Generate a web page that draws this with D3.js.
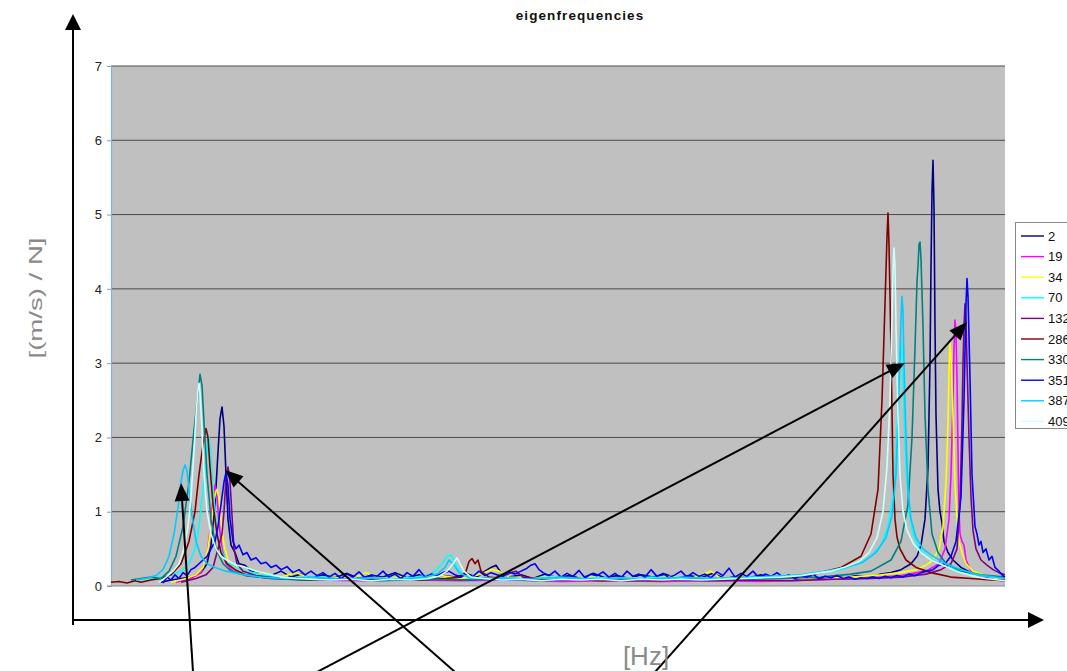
<!DOCTYPE html>
<html><head><meta charset="utf-8">
<script src="https://cdn.jsdelivr.net/npm/d3@7"></script>
<style>body{margin:0;background:#fff;overflow:hidden} svg{display:block;font-family:Arial,"Liberation Sans",sans-serif}</style>
</head><body><svg id="c" width="1067" height="671"></svg>
<script>
const chartTitle = "eigenfrequencies";
const yTitle = "[(m/s) / N]";
const xTitle = "[Hz]";
const seriesNames = ["2","19","34","70","132","286","330","351","387","409"];
const seriesColors = ["#000080","#FF00FF","#FFFF00","#00FFFF","#800080","#800000","#008080","#0000FF","#00CCFF","#CCFFFF"];
const yTicks = [0,1,2,3,4,5,6,7];
const freqRange = [0, 894];

const s2 = [[50,0.05],[60,0.08],[70,0.1],[80,0.12],[90,0.18],[96,0.3],[100,0.55],[104,1.1],[107,1.8],[109,2.25],[111,2.41],[113,2.15],[115,1.5],[117,0.9],[120,0.55],[124,0.45],[128,0.3],[134,0.28],[140,0.2],[150,0.18],[160,0.14],[170,0.2],[180,0.12],[190,0.16],[200,0.1],[212,0.15],[224,0.11],[236,0.17],[248,0.1],[260,0.14],[272,0.12],[284,0.18],[296,0.11],[308,0.15],[320,0.1],[332,0.14],[344,0.12],[356,0.16],[366,0.12],[374,0.2],[380,0.25],[385,0.28],[390,0.18],[398,0.12],[410,0.15],[422,0.1],[434,0.16],[446,0.11],[458,0.14],[470,0.1],[482,0.17],[494,0.11],[506,0.14],[518,0.1],[530,0.15],[542,0.12],[554,0.16],[566,0.1],[578,0.14],[590,0.11],[602,0.17],[614,0.1],[626,0.13],[638,0.11],[650,0.15],[662,0.1],[674,0.13],[686,0.09],[698,0.12],[710,0.1],[722,0.13],[734,0.11],[746,0.14],[758,0.12],[770,0.16],[780,0.18],[790,0.22],[800,0.3],[806,0.4],[810,0.55],[814,0.9],[817,1.6],[819,3.0],[820,4.3],[821,5.3],[822,5.73],[823,5.1],[824,3.5],[825,2.3],[827,1.3],[829,1.0],[831,0.85],[833,0.6],[837,0.45],[842,0.35],[850,0.25],[860,0.18],[872,0.14],[884,0.1],[894,0.08]];
const s19 = [[65,0.05],[80,0.1],[90,0.18],[96,0.4],[99,0.75],[102,1.15],[104,1.36],[106,1.2],[108,0.85],[111,0.5],[115,0.3],[122,0.2],[135,0.14],[160,0.1],[200,0.08],[250,0.07],[300,0.08],[350,0.07],[400,0.08],[450,0.06],[500,0.07],[550,0.06],[600,0.07],[650,0.06],[700,0.08],[750,0.1],[790,0.14],[815,0.2],[828,0.3],[834,0.5],[838,0.9],[840,1.5],[842,2.5],[843,3.2],[844,3.58],[845,3.4],[846,2.8],[847,1.8],[848,1.0],[849,0.7],[851,0.6],[853,0.55],[855,0.35],[860,0.2],[870,0.12],[885,0.08],[894,0.06]];
const s34 = [[60,0.05],[75,0.1],[85,0.15],[92,0.25],[97,0.5],[100,0.8],[103,1.15],[105,1.28],[106,1.3],[108,1.2],[110,0.9],[113,0.55],[117,0.35],[123,0.28],[130,0.22],[140,0.18],[155,0.15],[170,0.12],[185,0.18],[200,0.1],[220,0.12],[240,0.09],[255,0.18],[270,0.1],[290,0.12],[310,0.09],[330,0.14],[350,0.1],[370,0.16],[380,0.22],[388,0.2],[398,0.12],[420,0.1],[440,0.13],[460,0.09],[480,0.12],[500,0.1],[520,0.11],[540,0.09],[560,0.13],[580,0.1],[600,0.2],[610,0.1],[630,0.12],[650,0.09],[670,0.11],[690,0.1],[710,0.12],[730,0.11],[750,0.13],[770,0.15],[790,0.18],[805,0.22],[815,0.28],[822,0.35],[828,0.5],[832,0.8],[835,1.4],[837,2.2],[838,2.9],[839,3.28],[840,3.1],[842,2.3],[844,1.4],[846,0.9],[848,0.6],[851,0.45],[855,0.3],[862,0.2],[872,0.15],[885,0.1],[894,0.08]];
const s70 = [[40,0.1],[50,0.12],[60,0.15],[70,0.2],[78,0.3],[84,0.5],[88,0.8],[92,1.3],[95,1.7],[97,1.95],[98,2.0],[99,1.9],[101,1.5],[104,1.0],[107,0.65],[111,0.45],[117,0.32],[125,0.25],[135,0.2],[150,0.15],[170,0.12],[190,0.1],[210,0.12],[235,0.09],[260,0.11],[285,0.1],[305,0.12],[318,0.15],[326,0.22],[332,0.32],[336,0.4],[340,0.42],[343,0.35],[346,0.25],[352,0.15],[365,0.1],[390,0.11],[415,0.1],[440,0.12],[465,0.1],[490,0.11],[515,0.09],[540,0.12],[565,0.1],[590,0.11],[615,0.1],[640,0.12],[665,0.13],[690,0.15],[710,0.18],[730,0.22],[748,0.3],[760,0.4],[770,0.55],[777,0.8],[782,1.2],[785,1.8],[787,2.5],[789,3.0],[790,3.3],[791,3.1],[793,2.4],[795,1.6],[798,1.0],[802,0.7],[808,0.5],[818,0.38],[832,0.28],[850,0.2],[870,0.14],[894,0.1]];
const s132 = [[70,0.05],[85,0.1],[95,0.15],[102,0.25],[106,0.45],[109,0.6],[111,0.7],[113,1.0],[115,1.45],[117,1.6],[119,1.4],[121,0.95],[123,0.5],[126,0.3],[132,0.2],[145,0.14],[170,0.1],[200,0.08],[240,0.1],[280,0.08],[320,0.09],[360,0.08],[390,0.12],[400,0.18],[405,0.2],[412,0.12],[440,0.08],[480,0.09],[520,0.07],[560,0.08],[600,0.07],[640,0.08],[680,0.07],[720,0.09],[760,0.1],[790,0.12],[815,0.16],[830,0.22],[840,0.3],[846,0.5],[849,1.1],[851,2.2],[852,3.0],[853,3.5],[854,3.8],[855,3.55],[856,3.0],[858,2.0],[860,1.2],[862,0.75],[865,0.5],[870,0.35],[876,0.28],[882,0.22],[888,0.18],[894,0.15]];
const s286 = [[0,0.05],[8,0.06],[16,0.04],[24,0.07],[30,0.05],[40,0.08],[50,0.1],[60,0.15],[70,0.3],[78,0.6],[84,1.0],[88,1.5],[92,1.9],[95,2.12],[97,2.0],[99,1.6],[102,1.1],[106,0.7],[110,0.45],[116,0.3],[124,0.22],[135,0.15],[150,0.12],[170,0.1],[195,0.08],[220,0.1],[250,0.08],[280,0.09],[310,0.08],[335,0.1],[350,0.12],[355,0.2],[358,0.33],[361,0.37],[364,0.3],[367,0.35],[370,0.2],[378,0.12],[400,0.09],[430,0.08],[460,0.09],[490,0.07],[520,0.08],[550,0.07],[580,0.09],[610,0.08],[640,0.1],[670,0.11],[700,0.15],[730,0.25],[750,0.4],[760,0.7],[767,1.3],[771,2.5],[774,3.8],[776,4.7],[777,5.02],[778,4.6],[780,3.2],[782,1.5],[784,0.9],[786,0.66],[789,0.5],[795,0.35],[805,0.25],[820,0.18],[840,0.12],[860,0.1],[880,0.08],[894,0.08]];
const s330 = [[20,0.08],[30,0.1],[40,0.12],[50,0.1],[58,0.2],[65,0.4],[72,0.8],[78,1.4],[83,2.1],[87,2.6],[89,2.85],[91,2.7],[93,2.2],[96,1.5],[100,0.9],[105,0.5],[112,0.3],[120,0.2],[135,0.14],[160,0.1],[190,0.08],[230,0.09],[270,0.07],[310,0.09],[350,0.08],[390,0.09],[430,0.07],[470,0.09],[510,0.08],[550,0.09],[590,0.08],[630,0.09],[670,0.1],[710,0.12],[740,0.16],[760,0.2],[780,0.35],[790,0.6],[797,1.1],[801,2.0],[804,3.2],[806,4.1],[807,4.3],[808,4.6],[809,4.63],[810,4.4],[812,3.5],[814,2.3],[817,1.3],[821,0.7],[827,0.45],[835,0.3],[850,0.2],[870,0.15],[894,0.12]];
const s351 = [[52,0.04],[56,0.12],[60,0.08],[64,0.15],[68,0.1],[72,0.18],[76,0.14],[80,0.22],[84,0.25],[88,0.3],[92,0.35],[96,0.4],[100,0.5],[104,0.6],[107,0.8],[110,1.1],[113,1.4],[115,1.53],[117,1.35],[119,0.9],[122,0.6],[125,0.5],[128,0.55],[132,0.42],[136,0.45],[140,0.35],[145,0.38],[150,0.3],[155,0.32],[160,0.25],[165,0.28],[170,0.22],[176,0.26],[182,0.18],[188,0.22],[194,0.15],[200,0.2],[206,0.14],[212,0.18],[218,0.12],[224,0.17],[230,0.1],[236,0.16],[242,0.12],[248,0.19],[254,0.11],[260,0.15],[266,0.13],[272,0.2],[278,0.12],[284,0.16],[290,0.1],[296,0.18],[302,0.13],[308,0.22],[314,0.12],[320,0.16],[326,0.14],[332,0.18],[338,0.2],[344,0.15],[350,0.12],[356,0.17],[362,0.13],[368,0.2],[374,0.14],[380,0.18],[386,0.15],[392,0.13],[398,0.19],[404,0.16],[410,0.2],[416,0.24],[420,0.28],[424,0.3],[428,0.22],[432,0.18],[438,0.14],[444,0.2],[450,0.12],[456,0.17],[462,0.13],[468,0.21],[474,0.11],[480,0.16],[486,0.14],[492,0.19],[498,0.12],[504,0.17],[510,0.11],[516,0.2],[522,0.13],[528,0.16],[534,0.12],[540,0.22],[546,0.13],[552,0.17],[558,0.11],[564,0.15],[570,0.2],[576,0.12],[582,0.18],[588,0.13],[594,0.16],[600,0.11],[606,0.19],[612,0.14],[618,0.24],[624,0.12],[630,0.17],[636,0.13],[642,0.2],[648,0.11],[654,0.16],[660,0.13],[666,0.18],[672,0.12],[678,0.15],[684,0.1],[690,0.14],[696,0.12],[702,0.16],[708,0.1],[714,0.13],[720,0.11],[726,0.14],[732,0.1],[738,0.12],[744,0.09],[750,0.11],[756,0.1],[762,0.12],[768,0.1],[774,0.13],[780,0.11],[786,0.14],[792,0.12],[798,0.16],[804,0.14],[810,0.18],[816,0.2],[822,0.22],[828,0.28],[834,0.3],[840,0.4],[845,0.6],[850,1.2],[853,2.5],[855,3.8],[856,4.14],[857,3.9],[859,2.8],[861,1.5],[864,0.8],[866,0.7],[868,0.55],[870,0.6],[872,0.45],[875,0.5],[878,0.35],[881,0.4],[884,0.25],[888,0.2],[891,0.15],[894,0.12]];
const s387 = [[25,0.08],[35,0.1],[45,0.14],[52,0.22],[58,0.4],[63,0.7],[67,1.05],[70,1.4],[72,1.55],[74,1.63],[76,1.55],[78,1.3],[81,0.95],[85,0.6],[90,0.4],[96,0.3],[104,0.25],[115,0.2],[130,0.16],[150,0.12],[175,0.1],[200,0.12],[230,0.09],[260,0.11],[290,0.09],[315,0.12],[326,0.16],[334,0.25],[338,0.35],[342,0.3],[348,0.18],[360,0.1],[390,0.11],[420,0.09],[450,0.12],[480,0.09],[510,0.11],[540,0.09],[570,0.12],[600,0.1],[630,0.11],[660,0.13],[690,0.15],[715,0.2],[735,0.25],[752,0.32],[765,0.45],[775,0.65],[781,0.95],[785,1.5],[787,2.2],[789,3.1],[790,3.6],[791,3.9],[792,3.7],[793,3.0],[795,2.0],[797,1.3],[800,0.9],[805,0.65],[812,0.5],[822,0.4],[835,0.3],[850,0.22],[868,0.15],[894,0.1]];
const s409 = [[48,0.05],[55,0.12],[62,0.2],[68,0.3],[73,0.5],[77,0.8],[80,1.2],[83,1.8],[85,2.3],[87,2.65],[88,2.73],[89,2.6],[91,2.1],[93,1.5],[96,1.0],[100,0.7],[105,0.5],[110,0.4],[118,0.33],[126,0.28],[135,0.25],[145,0.2],[158,0.16],[170,0.12],[185,0.1],[200,0.09],[220,0.08],[240,0.09],[260,0.07],[280,0.09],[300,0.08],[318,0.1],[328,0.13],[336,0.2],[342,0.3],[346,0.38],[349,0.3],[353,0.2],[360,0.12],[372,0.1],[390,0.08],[410,0.09],[430,0.07],[450,0.09],[470,0.08],[490,0.09],[510,0.07],[530,0.09],[550,0.08],[570,0.09],[590,0.08],[610,0.09],[630,0.1],[650,0.11],[670,0.12],[690,0.14],[705,0.17],[720,0.2],[735,0.26],[748,0.33],[758,0.45],[766,0.65],[772,1.0],[776,1.6],[779,2.5],[781,3.6],[782,4.2],[783,4.55],[784,4.3],[785,3.5],[787,2.3],[789,1.5],[792,1.0],[796,0.75],[802,0.58],[810,0.45],[820,0.35],[832,0.28],[845,0.2],[860,0.14],[875,0.1],[894,0.07]];
const seriesData = [s2,s19,s34,s70,s132,s286,s330,s351,s387,s409];

// annotation arrows: [fromX, fromY, tipX, tipY] in page pixels (overlay drawing, not data)
const annotationArrows = [[193,672,181,483],[317,672,905,363],[455,672,225,470],[655,672,967,322]];

const svg = d3.select("#c");
const L = 111, R = 1005, T = 66, B = 586;
const x = d3.scaleLinear().domain(freqRange).range([L, R]);
const y = d3.scaleLinear().domain([0, 7]).range([B, T]);

// plot area
svg.append("rect").attr("x", L).attr("y", T).attr("width", R - L).attr("height", B - T).attr("fill", "#C0C0C0");

// gridlines
svg.append("g").selectAll("line").data(yTicks.filter(d => d > 0)).join("line")
  .attr("x1", L).attr("x2", R).attr("y1", d => y(d)).attr("y2", d => y(d))
  .attr("stroke", "#4a4a4a").attr("stroke-width", 1);

// y axis
const ya = svg.append("g").attr("transform", `translate(${L},0)`)
  .call(d3.axisLeft(y).tickValues(yTicks).tickSize(4).tickPadding(5).tickFormat(d3.format("d")));
ya.select(".domain").attr("stroke", "#7fb2e0").attr("stroke-width", 1.2);
ya.selectAll(".tick line").attr("stroke", "#999");
ya.selectAll(".tick text").attr("font-size", 13).attr("fill", "#222").attr("font-family", "Arial, 'Liberation Sans', sans-serif");

// bottom axis line
svg.append("line").attr("x1", L - 4).attr("x2", R).attr("y1", B).attr("y2", B).attr("stroke", "#8a8a8a").attr("stroke-width", 1.2);

// series
const line = d3.line().x(d => x(d[0])).y(d => y(d[1]));
svg.append("g").selectAll("path").data(seriesData).join("path")
  .attr("d", line).attr("fill", "none")
  .attr("stroke", (d, i) => seriesColors[i]).attr("stroke-width", 1.6)
  .attr("stroke-linejoin", "round");

// title
svg.append("text").attr("x", 580).attr("y", 20).attr("text-anchor", "middle")
  .attr("font-size", 13.5).attr("font-weight", "bold").attr("letter-spacing", 1.1).attr("fill", "#111").text(chartTitle);

// legend
const lg = svg.append("g");
lg.append("rect").attr("x", 1015.5).attr("y", 222.5).attr("width", 70).attr("height", 206)
  .attr("fill", "#fff").attr("stroke", "#888");
const li = lg.selectAll("g.it").data(seriesNames).join("g").attr("class", "it")
  .attr("transform", (d, i) => `translate(0,${236 + i * 20.6})`);
li.append("line").attr("x1", 1021).attr("x2", 1044).attr("stroke", (d, i) => seriesColors[i]).attr("stroke-width", 1.4);
li.append("text").attr("x", 1048).attr("y", 4.5).attr("font-size", 13).attr("fill", "#111").text(d => d);

// outer drawn axes (arrows)
function arrowHead(x1, y1, x2, y2, len, half) {
  const a = Math.atan2(y2 - y1, x2 - x1);
  const bx = x2 - len * Math.cos(a), by = y2 - len * Math.sin(a);
  const px = -Math.sin(a) * half, py = Math.cos(a) * half;
  return `M${x2},${y2}L${bx + px},${by + py}L${bx - px},${by - py}Z`;
}
const ov = svg.append("g");
ov.append("line").attr("x1", 73).attr("y1", 625).attr("x2", 73).attr("y2", 28).attr("stroke", "#000").attr("stroke-width", 2);
ov.append("path").attr("d", arrowHead(73, 625, 73, 14, 16, 8)).attr("fill", "#000");
ov.append("line").attr("x1", 73).attr("y1", 620).attr("x2", 1030).attr("y2", 620).attr("stroke", "#000").attr("stroke-width", 2);
ov.append("path").attr("d", arrowHead(73, 620, 1044, 620, 16, 8)).attr("fill", "#000");

annotationArrows.forEach(a => {
  const ang = Math.atan2(a[3] - a[1], a[2] - a[0]);
  ov.append("line").attr("x1", a[0]).attr("y1", a[1])
    .attr("x2", a[2] - 12 * Math.cos(ang)).attr("y2", a[3] - 12 * Math.sin(ang))
    .attr("stroke", "#000").attr("stroke-width", 2);
  ov.append("path").attr("d", arrowHead(a[0], a[1], a[2], a[3], 18, 7.5)).attr("fill", "#000");
});

// axis titles
svg.append("text").attr("x", 646).attr("y", 665).attr("text-anchor", "middle")
  .attr("font-size", 26).attr("fill", "#8a8a8a").text(xTitle);
svg.append("text").attr("transform", "translate(42,298) rotate(-90) scale(1.15,0.8)")
  .attr("text-anchor", "middle").attr("font-size", 24).attr("fill", "#8a8a8a").text(yTitle);
</script></body></html>
